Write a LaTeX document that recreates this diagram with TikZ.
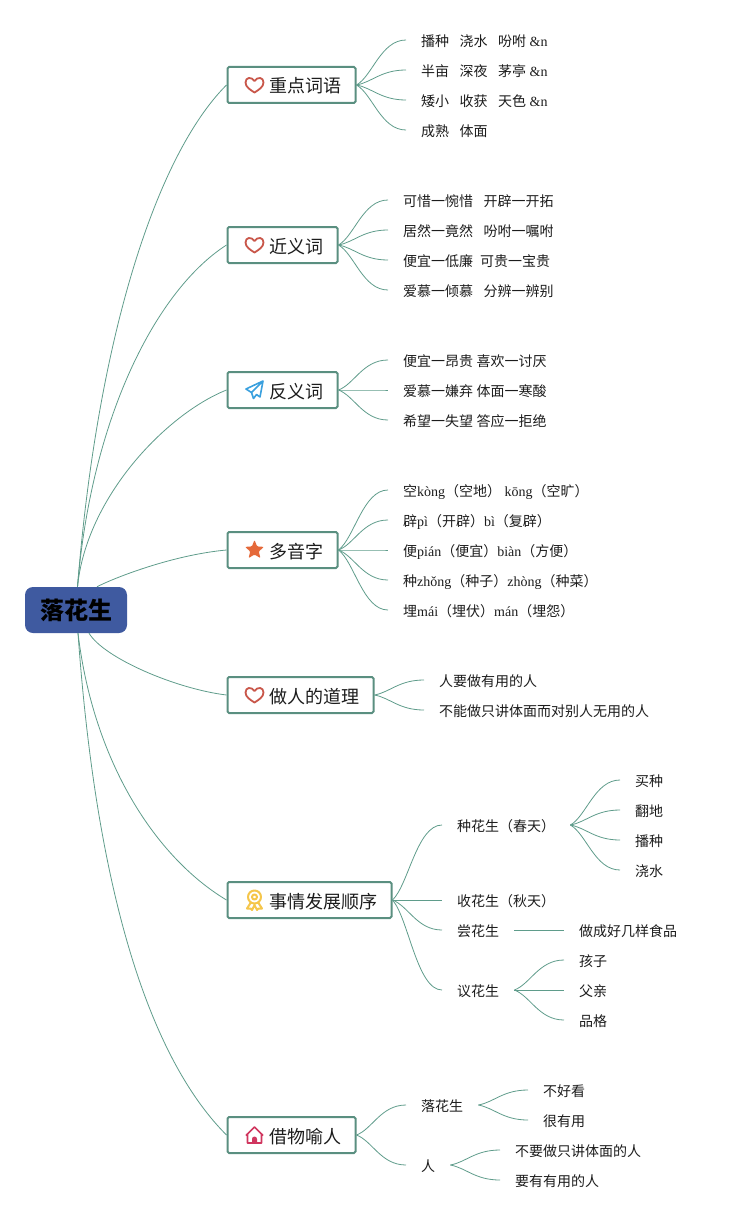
\documentclass[tikz,border=0pt]{standalone}
\usepackage{fontspec}
\setmainfont{Noto Sans CJK SC}
\newfontfamily\latinfont{Liberation Serif}
\usetikzlibrary{positioning, calc}
\definecolor{Line}{HTML}{5F9C8B}
\definecolor{Frame}{HTML}{5A8F80}
\definecolor{Root}{HTML}{3F5AA0}
\definecolor{Ink}{HTML}{1C1C1C}
\definecolor{Heart}{HTML}{C9574A}
\definecolor{Plane}{HTML}{3AA0DE}
\definecolor{Star}{HTML}{E5693A}
\definecolor{Medal}{HTML}{F5C64B}
\definecolor{House}{HTML}{D0365F}
\newcommand{\lat}[1]{{\latinfont #1}}
\newcommand{\gap}{\hspace{10.5pt}}
\tikzset{
    rootnode/.style={rectangle, rounded corners=8pt, fill=Root, text=black, minimum width=102pt, minimum height=46pt, inner sep=0pt, font=\fontsize{24}{28}\selectfont\bfseries},
    topic/.style={rectangle, rounded corners=1.5pt, draw=Frame, fill=white, line width=2pt, text=Ink, anchor=west, inner xsep=14pt, inner ysep=0pt, minimum height=36pt, text height=16pt, text depth=0pt, font=\fontsize{18}{22}\selectfont},
    leaf/.style={rectangle, text=Ink, anchor=west, inner xsep=15pt, inner ysep=1pt, text height=13pt, text depth=0pt, font=\fontsize{14}{17}\selectfont},
    trunk/.style={draw=Line, line width=0.8pt},
    branch/.style={draw=Line, line width=0.8pt},
    hearticon/.pic={\draw[draw=Heart, line width=1.8pt, line join=round] (0,-4) .. controls (-3,-8.5) and (-9,-8) .. (-9,-2.5) .. controls (-9,2) and (-4,5) .. (0,7.5) .. controls (4,5) and (9,2) .. (9,-2.5) .. controls (9,-8) and (3,-8.5) .. cycle;},
    planeicon/.pic={\draw[draw=Plane, line width=1.6pt, line join=round] (8.5,-9) -- (-8.5,-1) -- (-3,2.5) -- (-1,8.5) -- (2,4.5) -- (5.5,7) -- cycle (8.5,-9) -- (-3,2.5);},
    staricon/.pic={\fill[Star, rounded corners=1pt] (0,-10) -- (2.6,-3.6) -- (9.5,-3.1) -- (4.3,1.4) -- (5.9,8.1) -- (0,4.5) -- (-5.9,8.1) -- (-4.3,1.4) -- (-9.5,-3.1) -- (-2.6,-3.6) -- cycle;},
    medalicon/.pic={\draw[draw=Medal, line width=2pt, line join=round] (0,-3) circle (6.5) (0,-3) circle (2.5) (-4,3) -- (-7.5,8.5) -- (-4,8.5) -- (-2.5,10) -- (0,5) -- (2.5,10) -- (4,8.5) -- (7.5,8.5) -- (4,3);},
    houseicon/.pic={\draw[draw=House, line width=1.6pt, line join=round] (-7,8) -- (-7,-1) -- (0,-8) -- (7,-1) -- (7,8) -- cycle; \draw[draw=House, line width=1.6pt] (-8.5,0.5) -- (-7,-1) (8.5,0.5) -- (7,-1); \fill[House] (-2.5,8) -- (-2.5,4) arc (180:360:2.5) -- (2.5,8) -- cycle;}
}
\newcommand{\hub}[2]{%
    \foreach \kid in {#2}
        \draw[branch] (#1.east) .. controls ($(#1.east)!0.2!(\kid.west)+(6,0)$) and +(-25,0) .. (\kid.west);
}
\begin{document}
\begin{tikzpicture}[x=1pt, y=-1pt]
    \useasboundingbox (0,0) rectangle (737,1220);
    % Centre
    \node[rootnode] (root) at (76,610) {\raisebox{-1.5pt}{落花生}};
    % Topics
    \node[topic] (words) at (226.5,85) {\hspace*{28pt}重点词语};
    \node[topic] (synonym) at (226.5,245) {\hspace*{28pt}近义词};
    \node[topic] (antonym) at (226.5,390) {\hspace*{28pt}反义词};
    \node[topic] (poly) at (226.5,550) {\hspace*{28pt}多音字};
    \node[topic] (moral) at (226.5,695) {\hspace*{28pt}做人的道理};
    \node[topic] (story) at (226.5,900) {\hspace*{28pt}事情发展顺序};
    \node[topic] (metaphor) at (226.5,1135) {\hspace*{28pt}借物喻人};
    % Trunks
    \draw[trunk] (root.north) ++(1.5,0) .. controls +(20,-250) and +(-70,70) .. (words.west);
    \draw[trunk] (root.north) ++(1.5,0) .. controls +(14,-170) and +(-70,45) .. (synonym.west);
    \draw[trunk] (root.north) ++(1.5,0) .. controls +(9,-90) and +(-60,24) .. (antonym.west);
    \draw[trunk] (root.north) ++(21,0) .. controls +(15,-8) and +(-55,5) .. (poly.west);
    \draw[trunk] (root.south) ++(13,0) .. controls +(15,25) and +(-50,-6) .. (moral.west);
    \draw[trunk] (root.south) ++(2,0) .. controls +(15.6,130) and +(-70,-42) .. (story.west);
    \draw[trunk] (root.south) ++(2,0) .. controls +(20,280) and +(-70,-70) .. (metaphor.west);
    % Icons
    \path (words.west) ++(28,0) pic {hearticon};
    \path (synonym.west) ++(28,0) pic {hearticon};
    \path (antonym.west) ++(28,0) pic {planeicon};
    \path (poly.west) ++(28,0) pic {staricon};
    \path (moral.west) ++(28,0) pic {hearticon};
    \path (story.west) ++(28,0) pic {medalicon};
    \path (metaphor.west) ++(28,0) pic {houseicon};
    % Words
    \node[leaf] (w1) at (406,40) {播种\gap 浇水\gap 吩咐\hspace{3.5pt}\lat{\&n}};
    \node[leaf] (w2) at (406,70) {半亩\gap 深夜\gap 茅亭\hspace{3.5pt}\lat{\&n}};
    \node[leaf] (w3) at (406,100) {矮小\gap 收获\gap 天色\hspace{3.5pt}\lat{\&n}};
    \node[leaf] (w4) at (406,130) {成熟\gap 体面};
    \hub{words}{w1,w2,w3,w4}
    % Synonyms
    \node[leaf] (s1) at (388,200) {可惜一惋惜\gap 开辟一开拓};
    \node[leaf] (s2) at (388,230) {居然一竟然\gap 吩咐一嘱咐};
    \node[leaf] (s3) at (388,260) {便宜一低廉\hspace{7pt}可贵一宝贵};
    \node[leaf] (s4) at (388,290) {爱慕一倾慕\gap 分辨一辨别};
    \hub{synonym}{s1,s2,s3,s4}
    % Antonyms
    \node[leaf] (a1) at (388,360) {便宜一昂贵\hspace{3.5pt}喜欢一讨厌};
    \node[leaf] (a2) at (388,390) {爱慕一嫌弃\hspace{3.5pt}体面一寒酸};
    \node[leaf] (a3) at (388,420) {希望一失望\hspace{3.5pt}答应一拒绝};
    \hub{antonym}{a1,a2,a3}
    % Readings
    \node[leaf] (p1) at (388,490) {空\lat{kòng}（空地）\hspace{3.5pt}\lat{kōng}（空旷）};
    \node[leaf] (p2) at (388,520) {辟\lat{pì}（开辟）\lat{bì}（复辟）};
    \node[leaf] (p3) at (388,550) {便\lat{pián}（便宜）\lat{biàn}（方便）};
    \node[leaf] (p4) at (388,580) {种\lat{zhǒng}（种子）\lat{zhòng}（种菜）};
    \node[leaf] (p5) at (388,610) {埋\lat{mái}（埋伏）\lat{mán}（埋怨）};
    \hub{poly}{p1,p2,p3,p4,p5}
    % Moral
    \node[leaf] (m1) at (424,680) {人要做有用的人};
    \node[leaf] (m2) at (424,710) {不能做只讲体面而对别人无用的人};
    \hub{moral}{m1,m2}
    % Story
    \node[leaf] (plant) at (442,825) {种花生（春天）};
    \node[leaf] (harvest) at (442,900) {收花生（秋天）};
    \node[leaf] (taste) at (442,930) {尝花生};
    \node[leaf] (talk) at (442,990) {议花生};
    \hub{story}{plant,harvest,taste,talk}
    \node[leaf] (buy) at (620,780) {买种};
    \node[leaf] (plough) at (620,810) {翻地};
    \node[leaf] (sow) at (620,840) {播种};
    \node[leaf] (water) at (620,870) {浇水};
    \hub{plant}{buy,plough,sow,water}
    \node[leaf] (food) at (564,930) {做成好几样食品};
    \hub{taste}{food}
    \node[leaf] (kids) at (564,960) {孩子};
    \node[leaf] (father) at (564,990) {父亲};
    \node[leaf] (grade) at (564,1020) {品格};
    \hub{talk}{kids,father,grade}
    % Metaphor
    \node[leaf] (peanut) at (406,1105) {落花生};
    \node[leaf] (person) at (406,1165) {人};
    \hub{metaphor}{peanut,person}
    \node[leaf] (ugly) at (528,1090) {不好看};
    \node[leaf] (useful) at (528,1120) {很有用};
    \hub{peanut}{ugly,useful}
    \node[leaf] (nofake) at (500,1150) {不要做只讲体面的人};
    \node[leaf] (beuseful) at (500,1180) {要有有用的人};
    \hub{person}{nofake,beuseful}
\end{tikzpicture}
\end{document}
